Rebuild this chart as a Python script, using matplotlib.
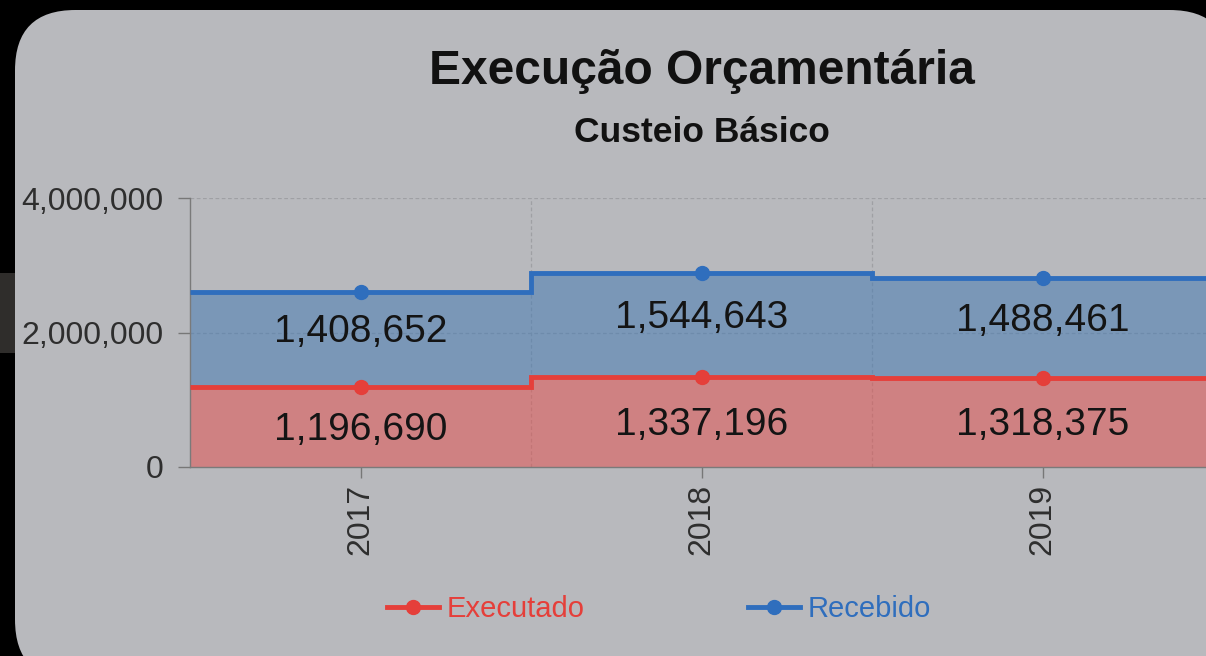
import numpy as np
import matplotlib.pyplot as plt
from matplotlib.patches import FancyBboxPatch, Rectangle
from matplotlib.lines import Line2D

plt.rcParams['font.family'] = ['Liberation Sans', 'DejaVu Sans']

# data
years = ['2017', '2018', '2019']
executado = [1196690, 1337196, 1318375]
recebido = [1408652, 1544643, 1488461]
y_ticks = [0, 2000000, 4000000]

W, H = 1206, 656
fig = plt.figure(figsize=(W / 100, H / 100), dpi=100)
fig.patch.set_facecolor('black')

# background bits and the rounded panel, in pixel coords
fig.patches.append(Rectangle((0, (H - 353) / H), 15 / W, 80 / H, transform=fig.transFigure,
                             facecolor='#2f2d2b', edgecolor='none', zorder=-2))
panel = FancyBboxPatch((15 / W, (H - 680) / H), 1215 / W, 670 / H,
                       boxstyle='round,pad=0,rounding_size=0.05',
                       mutation_aspect=W / H,
                       transform=fig.transFigure, facecolor='#b8b9bd', edgecolor='none', zorder=-1)
fig.patches.append(panel)

ax = fig.add_axes([190 / W, (H - 467) / H, 1023 / W, 269 / H])
ax.set_facecolor('none')

x = np.arange(len(years))
edges = np.arange(len(years) + 1) - 0.5
exe = np.array(executado)
total = exe + np.array(recebido)

red, red_fill = '#e53f3a', '#e64b49'
blue, blue_fill = '#2f6ebd', '#3e77b3'

ax.stairs(exe, edges, baseline=0, fill=True, color=red_fill, alpha=0.5, zorder=2)
ax.stairs(total, edges, baseline=exe, fill=True, color=blue_fill, alpha=0.5, zorder=2)
ax.stairs(exe, edges, baseline=None, color=red, lw=3.5, zorder=3)
ax.stairs(total, edges, baseline=None, color=blue, lw=3.5, zorder=3)
ax.plot(x, exe, 'o', color=red, ms=10, zorder=4)
ax.plot(x, total, 'o', color=blue, ms=10, zorder=4)

for i in range(len(years)):
    ax.annotate(f'{executado[i]:,}', (x[i], exe[i] / 2),
                xytext=(0, -2), textcoords='offset points', ha='center', va='center',
                fontsize=28, color='#141414', zorder=5)
    ax.annotate(f'{recebido[i]:,}', (x[i], exe[i] + recebido[i] / 2),
                xytext=(0, 5), textcoords='offset points', ha='center', va='center',
                fontsize=28, color='#141414', zorder=5)

# grid
for yv in y_ticks[1:]:
    ax.axhline(yv, color='#9fa0a4', lw=0.9, ls=(0, (3, 2)), zorder=1)
for xv in edges[1:-1]:
    ax.axvline(xv, color='#9fa0a4', lw=0.9, ls=(0, (3, 2)), zorder=1)

ax.set_xlim(edges[0], edges[-1])
ax.set_ylim(0, 4000000)
ax.set_yticks(y_ticks)
ax.set_yticklabels([f'{v:,}' for v in y_ticks])
ax.set_xticks(x)
ax.set_xticklabels(years, rotation=90)
ax.tick_params(axis='y', length=9, width=1, color='#777777', pad=10,
               labelsize=23, labelcolor='#2e2e2e')
ax.tick_params(axis='x', length=8, width=1, color='#777777', pad=4,
               labelsize=23, labelcolor='#2e2e2e')
for s in ['top', 'right']:
    ax.spines[s].set_visible(False)
for s in ['left', 'bottom']:
    ax.spines[s].set_color('#7a7a7a')
    ax.spines[s].set_linewidth(1)

fig.text(702 / W, 1 - 72 / H, 'Execução Orçamentária', ha='center', va='center',
         fontsize=34.5, fontweight='bold', color='#111111')
fig.text(702 / W, 1 - 133 / H, 'Custeio Básico', ha='center', va='center',
         fontsize=25.5, fontweight='bold', color='#111111')

handles = [Line2D([], [], color=red, lw=3.5, marker='o', ms=10),
           Line2D([], [], color=blue, lw=3.5, marker='o', ms=10)]
fig.legend(handles, ['Executado', 'Recebido'], loc='center', bbox_to_anchor=(659 / W, 1 - 609 / H),
           ncol=2, frameon=False, fontsize=21, labelcolor=[red, blue],
           handlelength=1.8, handletextpad=0.25, columnspacing=5.6)

fig.savefig('out.png', dpi=100, facecolor=fig.get_facecolor())
